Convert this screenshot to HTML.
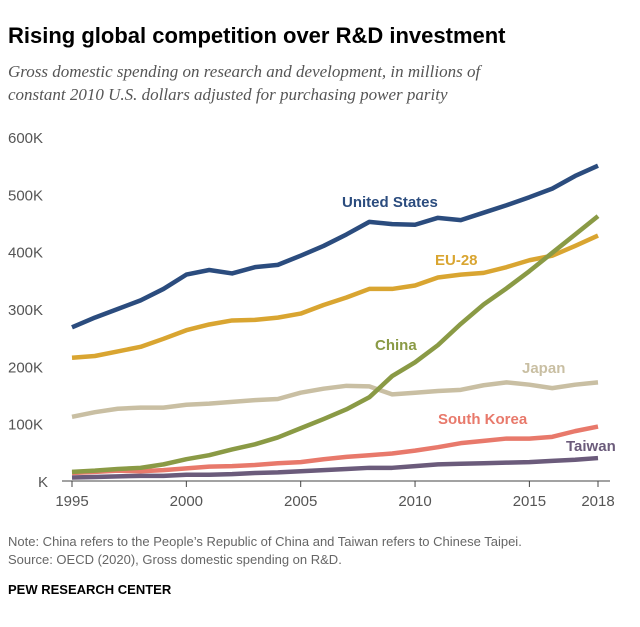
<!DOCTYPE html>
<html><head><meta charset="utf-8"><style>
body{margin:0;background:#fff;width:640px;height:622px;overflow:hidden;font-family:"Liberation Sans",sans-serif}
</style></head><body>
<svg width="640" height="622">
<text x="8" y="43" font-size="22" font-weight="bold" fill="#000">Rising global competition over R&amp;D investment</text>
<text x="8" y="77" font-size="17" font-style="italic" font-family="Liberation Serif,serif" fill="#555">Gross domestic spending on research and development, in millions of</text>
<text x="8" y="100" font-size="17" font-style="italic" font-family="Liberation Serif,serif" fill="#555">constant 2010 U.S. dollars adjusted for purchasing power parity</text>
<g id="plot"></g>
<text x="8" y="546" font-size="13" fill="#666">Note: China refers to the People’s Republic of China and Taiwan refers to Chinese Taipei.</text>
<text x="8" y="564" font-size="13" fill="#666">Source: OECD (2020), Gross domestic spending on R&amp;D.</text>
<text x="8" y="594" font-size="13" font-weight="bold" fill="#000">PEW RESEARCH CENTER</text>
</svg>
<script>
const years=[1995,1996,1997,1998,1999,2000,2001,2002,2003,2004,2005,2006,2007,2008,2009,2010,2011,2012,2013,2014,2015,2016,2017,2018];
const us=[268,285,300,315,335,360,368,362,373,377,393,410,430,452,448,447,459,455,468,481,495,510,532,550];
const eu=[215,218,226,234,248,263,273,280,281,285,292,307,320,335,335,341,355,360,363,373,385,393,410,428];
const china=[16,18,21,23,29,38,45,55,64,76,92,108,125,146,183,207,237,274,308,336,366,398,430,462];
const japan=[112,120,126,128,128,133,135,138,141,143,154,161,166,165,151,154,157,159,167,172,168,162,168,172];
const korea=[14,16,18,17,19,22,25,26,28,31,33,38,42,45,48,53,59,66,70,74,74,77,87,95];
const taiwan=[6,7,8,9,9,11,11,12,14,15,17,19,21,23,23,26,29,30,31,32,33,35,37,40];
const yTicks=[0,100,200,300,400,500,600];
const yTickLabels=["K","100K","200K","300K","400K","500K","600K"];
const xTicks=[1995,2000,2005,2010,2015,2018];
const NS="http://www.w3.org/2000/svg";
const g=document.getElementById('plot');
const X=y=>72+(y-1995)*(526/23);
const Y=v=>481-v*(344/600);
function el(t,a){const e=document.createElementNS(NS,t);for(const k in a)e.setAttribute(k,a[k]);g.appendChild(e);return e;}
yTicks.forEach((v,i)=>{const t=el('text',{x:i==0?38:8,y:Y(v)+6,'font-size':15,fill:'#555'});t.textContent=yTickLabels[i];

});
const ax=el('line',{x1:62,x2:610,y1:Y(0),y2:Y(0),stroke:'#444','stroke-width':1});


xTicks.forEach(v=>{const l=el('line',{x1:X(v),x2:X(v),y1:Y(0),y2:Y(0)+6,stroke:'#444'});


const t=el('text',{x:X(v),y:506,'font-size':15,fill:'#555','text-anchor':'middle'});t.textContent=v;

});
const series=[[taiwan,'#6b5b7b','taiwan'],[korea,'#e8796b','south-korea'],[japan,'#c9bfa3','japan'],[eu,'#d9a531','eu-28'],[china,'#8a9a45','china'],[us,'#2b4c7e','united-states']];
series.forEach(([d,c,n])=>{const p=el('polyline',{points:d.map((v,i)=>X(years[i])+','+Y(v)).join(' '),fill:'none',stroke:c,'stroke-width':4.5,'stroke-linejoin':'round'});

});
const labels=[['United States',342,207,'#2b4c7e'],['EU-28',435,265,'#d9a531'],['China',375,350,'#8a9a45'],['Japan',522,373,'#c9bfa3'],['South Korea',438,424,'#e8796b'],['Taiwan',566,451,'#6b5b7b']];
labels.forEach(([s,x,y,c])=>{const t=el('text',{x:x,y:y,'font-size':15,'font-weight':'bold',fill:c});t.textContent=s;

});
</script>
</body></html>
